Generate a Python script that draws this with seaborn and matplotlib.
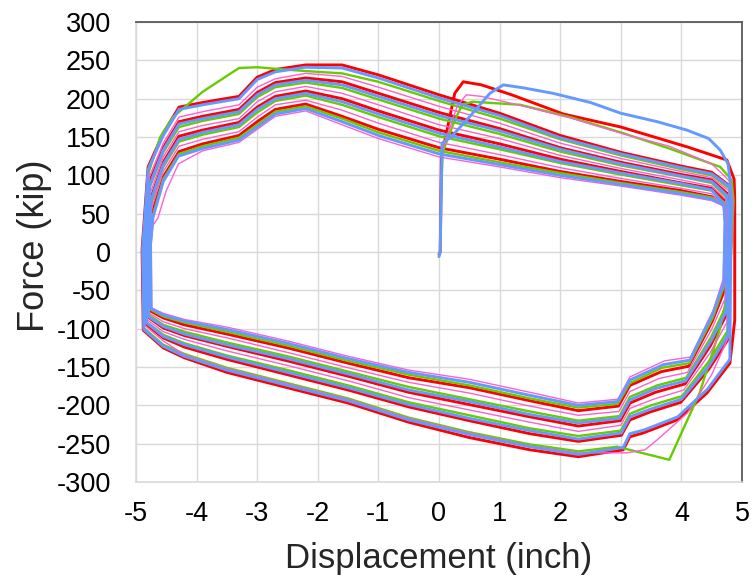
import matplotlib
matplotlib.use("Agg")
import matplotlib.pyplot as plt
import seaborn as sns

# ---------------- data ----------------
x_ticks = [-5, -4, -3, -2, -1, 0, 1, 2, 3, 4, 5]
y_ticks = [-300, -250, -200, -150, -100, -50, 0, 50, 100, 150, 200, 250, 300]

# shared x stations of the lower (right -> left) and upper (left -> right) branches
LOWER_X = [2.3, 1.5, 0.5, -0.5, -1.5, -2.5, -3.5, -4.2]
UPPER_X = [-3.9, -3.3, -3.0, -2.7, -2.2, -1.6, -1.0, 0.0, 1.0, 2.0, 3.0, 4.0, 4.5]

# ---- red specimen ----
red_first = [(0.0, -3), (0.02, 0), (0.03, 60), (0.04, 124), (0.26, 207), (0.4, 222), (0.7, 218),
             (1.2, 205), (2.05, 180), (3.0, 163), (4.1, 137), (4.75, 120)]
red_cycles = [
    ([(4.87, 95), (4.88, 70), (4.88, -89), (4.80, -145), (4.42, -184), (3.93, -219), (3.37, -236), (3.15, -241), (3.04, -258)],
     [-267, -258, -242, -222, -197, -177, -157, -138],
     [(-4.55, -125), (-4.88, -102), (-4.90, 3), (-4.80, 111), (-4.55, 155), (-4.29, 189)],
     [195, 203, 228, 238, 244, 244, 231, 205, 181, 152, 130, 112, 104]),
    ([(4.80, 86), (4.83, 61), (4.77, -114), (4.45, -153), (3.99, -196), (3.47, -209), (3.15, -219), (3.01, -239)],
     [-247, -237, -220, -202, -180, -160, -140, -124],
     [(-4.55, -112), (-4.84, -94), (-4.86, 5), (-4.78, 91), (-4.55, 136), (-4.29, 170)],
     [177, 186, 208, 221, 227, 222, 207, 182, 161, 136, 117, 101, 94]),
    ([(4.76, 76), (4.78, 52), (4.74, -82), (4.48, -122), (4.06, -172), (3.57, -183), (3.15, -197), (2.99, -220)],
     [-227, -215, -199, -183, -162, -142, -123, -109],
     [(-4.55, -99), (-4.80, -85), (-4.82, 7), (-4.75, 71), (-4.55, 117), (-4.29, 151)],
     [159, 169, 189, 203, 210, 200, 184, 159, 141, 121, 105, 90, 83]),
    ([(4.72, 66), (4.74, 43), (4.71, -50), (4.51, -90), (4.12, -149), (3.67, -156), (3.15, -174), (2.96, -201)],
     [-207, -194, -177, -164, -145, -125, -107, -95],
     [(-4.55, -86), (-4.76, -77), (-4.77, 9), (-4.73, 52), (-4.55, 98), (-4.29, 131)],
     [141, 152, 170, 186, 193, 177, 160, 136, 121, 105, 92, 80, 72]),
]
red_end = [(4.72, 66)]

# ---- green specimen ----
green_first = [(0.0, -2), (0.02, 0), (0.03, 60), (0.06, 130), (0.25, 170), (0.38, 192), (0.55, 196),
               (1.34, 192), (2.16, 176), (3.0, 156), (3.8, 135), (4.64, 111)]
green_cycles = [
    ([(4.83, 94), (4.86, 67), (4.80, -40), (4.63, -102), (4.30, -184), (3.80, -271), (2.94, -254)],
     [-260, -251, -235, -216, -191, -171, -151, -133],
     [(-4.55, -121), (-4.87, -99), (-4.89, 4), (-4.79, 104), (-4.60, 150), (-4.39, 176)],
     [209, 240, 241, 239, 236, 233, 222, 197, 174, 147, 126, 108, 100]),
    ([(4.79, 83), (4.82, 58), (4.76, -103), (4.46, -142), (4.01, -188), (3.50, -200), (3.15, -211), (3.00, -233)],
     [-240, -230, -213, -196, -174, -154, -135, -119],
     [(-4.55, -108), (-4.83, -91), (-4.84, 6), (-4.77, 85), (-4.55, 130), (-4.29, 163)],
     [171, 180, 202, 215, 221, 214, 199, 174, 154, 131, 113, 98, 90]),
    ([(4.74, 72), (4.77, 49), (4.73, -72), (4.49, -111), (4.08, -164), (3.60, -174), (3.15, -189), (2.98, -214)],
     [-220, -208, -192, -176, -156, -136, -118, -104],
     [(-4.55, -95), (-4.79, -82), (-4.80, 8), (-4.74, 65), (-4.55, 111), (-4.29, 144)],
     [153, 163, 182, 197, 204, 192, 176, 151, 134, 116, 101, 87, 80]),
    ([(4.71, 64), (4.73, 42), (4.70, -45), (4.52, -85), (4.13, -145), (3.68, -151), (3.15, -171), (2.95, -198)],
     [-203, -191, -174, -160, -142, -122, -104, -92],
     [(-4.55, -84), (-4.76, -75), (-4.77, 10), (-4.72, 48), (-4.55, 95), (-4.29, 128)],
     [138, 149, 166, 183, 190, 174, 156, 132, 117, 103, 90, 78, 71]),
]
green_end = [(4.71, 64)]

# ---- pink specimen ----
pink_first = [(0.0, -3), (0.02, 0), (0.03, 60), (0.06, 135), (0.3, 190), (0.45, 205), (0.7, 203),
              (1.3, 192), (2.16, 175), (3.0, 155), (3.8, 138), (4.5, 115), (4.7, 100)]
pink_cycles = [
    ([(4.82, 90), (4.85, 64), (4.78, -110), (4.50, -160), (4.10, -210), (3.60, -245), (3.40, -258), (3.10, -262)],
     [-262, -253, -236, -217, -192, -172, -152, -134],
     [(-4.55, -116), (-4.85, -96), (-4.87, 4), (-4.78, 98), (-4.55, 142), (-4.29, 176)],
     [183, 192, 215, 226, 233, 229, 215, 190, 168, 142, 122, 105, 97]),
    ([(4.78, 80), (4.80, 55), (4.75, -92), (4.47, -132), (4.04, -180), (3.54, -192), (3.15, -204), (3.00, -226)],
     [-234, -222, -206, -190, -168, -148, -129, -114],
     [(-4.55, -104), (-4.82, -88), (-4.83, 6), (-4.76, 78), (-4.55, 124), (-4.29, 157)],
     [165, 174, 196, 209, 216, 207, 192, 166, 148, 126, 109, 94, 86]),
    ([(4.73, 69), (4.75, 46), (4.72, -61), (4.50, -101), (4.10, -157), (3.63, -165), (3.15, -182), (2.97, -208)],
     [-213, -201, -184, -170, -151, -131, -112, -100],
     [(-4.55, -91), (-4.78, -80), (-4.79, 9), (-4.74, 58), (-4.55, 105), (-4.29, 138)],
     [147, 157, 176, 192, 198, 185, 168, 143, 127, 110, 96, 83, 76]),
    ([(4.69, 60), (4.71, 38), (4.69, -35), (4.53, -75), (4.15, -137), (3.72, -142), (3.15, -163), (2.95, -192)],
     [-197, -183, -166, -154, -136, -116, -98, -88],
     [(-4.55, -80), (-4.74, -73), (-4.75, 10), (-4.72, 35), (-4.64, 44), (-4.50, 80), (-4.30, 115)],
     [132, 143, 160, 177, 184, 166, 148, 124, 111, 97, 86, 74, 67]),
]
pink_end = [(4.69, 60)]

# ---- blue specimen ----
blue_first = [(0.0, -6), (0.02, 0), (0.03, 50), (0.05, 142), (0.2, 150), (0.5, 176), (0.84, 207), (1.06, 218),
              (1.4, 214), (1.88, 207), (2.5, 195), (3.0, 181), (3.6, 170), (4.09, 159), (4.45, 148),
              (4.64, 133), (4.77, 115)]
blue_cycles = [
    ([(4.80, 95), (4.82, 68), (4.80, -140), (4.43, -179), (3.94, -215), (3.39, -232), (3.15, -237), (3.04, -255)],
     [-264, -254, -238, -219, -194, -174, -154, -136],
     [(-4.55, -123), (-4.87, -101), (-4.89, 3), (-4.80, 108), (-4.55, 152), (-4.29, 186)],
     [192, 200, 225, 235, 241, 240, 227, 201, 178, 149, 128, 110, 102]),
    ([(4.80, 85), (4.82, 60), (4.77, -108), (4.46, -148), (4.00, -192), (3.49, -205), (3.15, -215), (3.01, -236)],
     [-244, -233, -217, -199, -177, -157, -137, -121],
     [(-4.55, -110), (-4.83, -92), (-4.85, 5), (-4.77, 88), (-4.55, 133), (-4.29, 167)],
     [174, 183, 205, 218, 224, 218, 203, 178, 158, 134, 115, 99, 92]),
    ([(4.75, 74), (4.78, 50), (4.74, -77), (4.49, -116), (4.07, -168), (3.58, -178), (3.15, -193), (2.98, -217)],
     [-223, -212, -195, -180, -159, -139, -121, -107],
     [(-4.55, -97), (-4.80, -84), (-4.81, 8), (-4.75, 68), (-4.55, 114), (-4.29, 147)],
     [156, 166, 186, 200, 207, 196, 180, 155, 137, 118, 103, 89, 81]),
    ([(4.70, 62), (4.72, 40), (4.70, -40), (4.52, -80), (4.14, -141), (3.70, -147), (3.15, -167), (2.95, -195)],
     [-200, -187, -170, -157, -139, -119, -101, -90],
     [(-4.55, -82), (-4.75, -74), (-4.76, 10), (-4.72, 45), (-4.55, 92), (-4.30, 125)],
     [135, 146, 163, 180, 187, 170, 152, 128, 114, 100, 88, 76, 69]),
]
blue_end = [(4.70, 62)]


def build_path(first, cycles, end):
    xs = [p[0] for p in first]
    ys = [p[1] for p in first]
    for right, lower, left, upper in cycles:
        xs += [p[0] for p in right]
        ys += [p[1] for p in right]
        xs += LOWER_X
        ys += lower
        xs += [p[0] for p in left]
        ys += [p[1] for p in left]
        xs += UPPER_X
        ys += upper
    xs += [p[0] for p in end]
    ys += [p[1] for p in end]
    return xs, ys


# ---------------- figure ----------------
sns.set_style("white")
plt.rcParams["font.family"] = ["Liberation Sans", "DejaVu Sans"]

fig = plt.figure(figsize=(7.56, 5.81), dpi=100)
ax = fig.add_axes([136 / 756, 1 - 482 / 581, 606 / 756, 460 / 581])

series = [
    (red_first, red_cycles, red_end, "#FF0000", 2.1),
    (green_first, green_cycles, green_end, "#66CC00", 1.7),
    (pink_first, pink_cycles, pink_end, "#FF5FD2", 1.0),
    (blue_first, blue_cycles, blue_end, "#6699FF", 2.1),
]
for first, cycles, end, col, lw in series:
    xs, ys = build_path(first, cycles, end)
    sns.lineplot(x=xs, y=ys, sort=False, estimator=None, color=col, linewidth=lw,
                 ax=ax, solid_joinstyle="round", solid_capstyle="round", zorder=3)

ax.set_xlim(-5, 5)
ax.set_ylim(-300, 300)
ax.set_xticks(x_ticks)
ax.set_yticks(y_ticks)
ax.set_xticklabels([str(t) for t in x_ticks])
ax.set_yticklabels([str(t) for t in y_ticks])
ax.grid(True, color="#D9D9D9", linewidth=1.0, zorder=0)
ax.set_axisbelow(True)
ax.tick_params(axis="both", length=0, labelsize=19.5, labelcolor="#000000")
ax.tick_params(axis="x", pad=14)
ax.tick_params(axis="y", pad=18)

for side in ["left", "bottom"]:
    ax.spines[side].set_color("#D9D9D9")
    ax.spines[side].set_linewidth(1.2)
for side in ["top", "right"]:
    ax.spines[side].set_color("#595959")
    ax.spines[side].set_linewidth(1.3)

ax.set_xlabel("")
ax.set_ylabel("")
fig.text(439 / 756, 1 - 568 / 581, "Displacement (inch)", ha="center", va="baseline", fontsize=25)
fig.text(35 / 756, 1 - 246 / 581, "Force (kip)", ha="center", va="center", rotation=90, fontsize=26)

fig.savefig("out.png", dpi=100)
